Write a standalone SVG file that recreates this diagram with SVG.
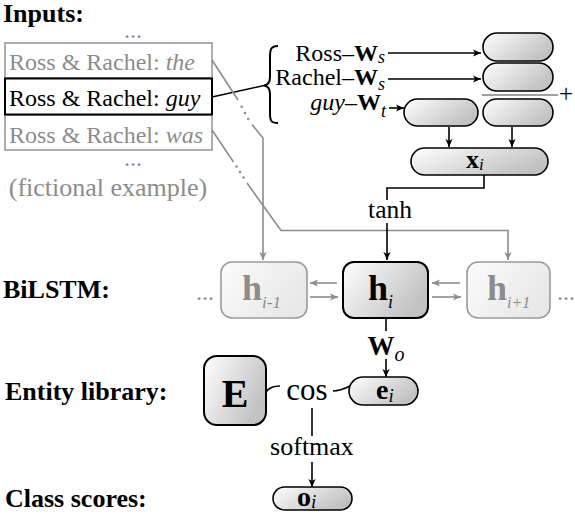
<svg xmlns="http://www.w3.org/2000/svg" width="575" height="517" viewBox="0 0 575 517">
<defs>
<linearGradient id="g" x1="0" y1="0" x2="1" y2="0.5">
<stop offset="0" stop-color="#ffffff"/><stop offset="1" stop-color="#c2c2c2"/>
</linearGradient>
<linearGradient id="gl" x1="0" y1="0" x2="1" y2="0.5">
<stop offset="0" stop-color="#fcfcfc"/><stop offset="1" stop-color="#e8e8e8"/>
</linearGradient>
<marker id="ab" viewBox="0 0 10 10" refX="10" refY="5" markerWidth="8" markerHeight="8" markerUnits="userSpaceOnUse" orient="auto">
<path d="M0,0.5 L10,5 L0,9.5 L2.5,5 z" fill="#000"/>
</marker>
<marker id="ag" viewBox="0 0 10 10" refX="10" refY="5" markerWidth="8" markerHeight="8" markerUnits="userSpaceOnUse" orient="auto">
<path d="M0,0.5 L10,5 L0,9.5 L2.5,5 z" fill="#8c8c8c"/>
</marker>
</defs>
<style>
text{font-family:"Liberation Serif","Times New Roman",serif;fill:#000}
.lbl{font-weight:bold;font-size:26px}
.in{font-size:24px}
.gt{fill:#8c8c8c}
.it{font-style:italic}
.b{font-weight:bold}
.pill{fill:url(#g);stroke:#000;stroke-width:1.6}
.lbox{fill:url(#gl);stroke:#9a9a9a;stroke-width:1.6}
.c{stroke:#000;stroke-width:1.6;fill:none}
.cg{stroke:#8c8c8c;stroke-width:1.6;fill:none}
.dot{fill:#8c8c8c}
</style>
<rect width="575" height="517" fill="#fff"/>

<g id="labels">
<text class="lbl" x="3" y="22" font-size="25.5">Inputs:</text>
<text class="lbl" x="3" y="298">BiLSTM:</text>
<text class="lbl" x="5" y="400">Entity library:</text>
<text class="lbl" x="5" y="507">Class scores:</text>
</g>

<g id="inputs">
<text class="gt" x="133" y="38" font-size="24" text-anchor="middle">...</text>
<rect x="5" y="43" width="207" height="35" fill="#fff" stroke="#9a9a9a" stroke-width="1.6"/>
<text class="in gt" x="9" y="70">Ross &amp; Rachel: <tspan class="it gt">the</tspan></text>
<rect x="5" y="115" width="207" height="35" fill="#fff" stroke="#9a9a9a" stroke-width="1.6"/>
<text class="in gt" x="9" y="143">Ross &amp; Rachel: <tspan class="it gt">was</tspan></text>
<rect x="5" y="78.5" width="207" height="36" fill="#fff" stroke="#000" stroke-width="2"/>
<text class="in" x="9" y="106">Ross &amp; Rachel: <tspan class="it">guy</tspan></text>
<text class="gt" x="133" y="166" font-size="24" text-anchor="middle">...</text>
<text class="gt" x="108" y="196" font-size="26" text-anchor="middle">(fictional example)</text>
</g>

<g id="embeddings">
<path d="M278,46 C271,46 270,49 270,57 L270,77 C270,83 268,85 264,85.5 C268,86 270,88 270,94 L270,113 C270,121 271,123 278,123" fill="none" stroke="#000" stroke-width="2"/>
<text x="385" y="61" font-size="24" text-anchor="end">Ross–<tspan class="b">W</tspan><tspan class="it" font-size="18" dy="2">s</tspan></text>
<text x="385" y="85" font-size="24" text-anchor="end">Rachel–<tspan class="b">W</tspan><tspan class="it" font-size="18" dy="5">s</tspan></text>
<text x="386" y="110" font-size="24" text-anchor="end"><tspan class="it">guy</tspan>–<tspan class="b">W</tspan><tspan class="it" font-size="18" dy="7">t</tspan></text>
<rect class="pill" x="483" y="33" width="70" height="28" rx="14"/>
<rect class="pill" x="483" y="63" width="70" height="28" rx="14"/>
<line x1="482" y1="95" x2="558" y2="95" stroke="#444" stroke-width="1.2"/>
<text x="566" y="102" font-size="25" text-anchor="middle">+</text>
<rect class="pill" x="483" y="99" width="70" height="27" rx="13.5"/>
<rect class="pill" x="404" y="99" width="74" height="27" rx="13.5"/>
</g>

<g id="xi">
<rect class="pill" x="411" y="148" width="137" height="27" rx="13.5"/>
<text x="466" y="168" font-size="26"><tspan class="b">x</tspan><tspan class="it" font-size="17" dy="2">i</tspan></text>
</g>

<g id="bilstm">
<text class="gt" x="196" y="300" font-size="24">...</text>
<rect class="lbox" x="221" y="262" width="86" height="56" rx="11"/>
<text class="gt" x="242" y="300" font-size="36"><tspan class="b gt">h</tspan><tspan class="it gt" font-size="17" dy="8">i-1</tspan></text>
<rect x="343" y="262" width="85" height="56" rx="11" fill="url(#g)" stroke="#000" stroke-width="2"/>
<text x="368" y="300" font-size="36"><tspan class="b">h</tspan><tspan class="it" font-size="18" dy="8">i</tspan></text>
<rect class="lbox" x="467" y="262" width="83" height="56" rx="11"/>
<text class="gt" x="487" y="300" font-size="36"><tspan class="b gt">h</tspan><tspan class="it gt" font-size="16" dy="8">i+1</tspan></text>
<text class="gt" x="557" y="300" font-size="24">...</text>
</g>

<g id="entity">
<rect x="204" y="356" width="62" height="69" rx="13" fill="url(#g)" stroke="#000" stroke-width="2"/>
<text class="b" x="235" y="407" font-size="40" text-anchor="middle">E</text>
<text x="307" y="400" font-size="31" text-anchor="middle">cos</text>
<rect class="pill" x="349" y="377" width="69" height="28" rx="14"/>
<text x="376" y="399" font-size="28"><tspan class="b">e</tspan><tspan class="it" font-size="19" dy="3">i</tspan></text>
<text x="312" y="455" font-size="26" text-anchor="middle">softmax</text>
<text x="386" y="355" font-size="27" text-anchor="middle"><tspan class="b">W</tspan><tspan class="it" font-size="20" dy="6">o</tspan></text>
</g>

<g id="scores">
<rect class="pill" x="273" y="487" width="79" height="23" rx="11.5"/>
<text x="297" y="506" font-size="28"><tspan class="b">o</tspan><tspan class="it" font-size="19" dy="2">i</tspan></text>
</g>

<g id="connectors">
<line class="c" x1="212" y1="97" x2="264" y2="85.5"/>
<line class="c" x1="388" y1="53" x2="481" y2="53" marker-end="url(#ab)"/>
<line class="c" x1="388" y1="79" x2="481" y2="79" marker-end="url(#ab)"/>
<line class="c" x1="389" y1="108" x2="404" y2="108" marker-end="url(#ab)"/>
<line class="c" x1="449" y1="127" x2="449" y2="147" marker-end="url(#ab)"/>
<line class="c" x1="512" y1="127" x2="512" y2="147" marker-end="url(#ab)"/>
<polyline class="c" points="484,175 484,188 387,188 387,200"/>
<text x="390" y="218" font-size="25.5" text-anchor="middle">tanh</text>
<polyline class="cg" points="212,60 238,100"/>
<circle class="dot" cx="241.7" cy="106.7" r="1.3"/>
<circle class="dot" cx="245" cy="113" r="1.3"/>
<circle class="dot" cx="248.3" cy="119" r="1.3"/>
<polyline class="cg" points="252,124.5 263,138 263,260" marker-end="url(#ag)"/>
<polyline class="cg" points="212,130 233.5,162"/>
<circle class="dot" cx="236.5" cy="166.5" r="1.3"/>
<circle class="dot" cx="240" cy="172" r="1.3"/>
<circle class="dot" cx="243.5" cy="177.5" r="1.3"/>
<polyline class="cg" points="247,183 281,230.5 508,230.5 508,260" marker-end="url(#ag)"/>
<line class="c" x1="387" y1="223" x2="387" y2="260" marker-end="url(#ab)"/>
<line class="cg" x1="337" y1="283" x2="310" y2="283" marker-end="url(#ag)"/>
<line class="cg" x1="310" y1="297" x2="338" y2="297" marker-end="url(#ag)"/>
<line class="cg" x1="460" y1="283" x2="432" y2="283" marker-end="url(#ag)"/>
<line class="cg" x1="432" y1="297" x2="461" y2="297" marker-end="url(#ag)"/>
<line class="c" x1="386" y1="318" x2="386" y2="331"/>
<line class="c" x1="386" y1="359" x2="386" y2="377" marker-end="url(#ab)"/>
<path class="c" d="M266,392 Q270,386 280,386"/>
<path class="c" d="M333,391 Q340,391 350,386"/>
<line class="c" x1="312" y1="408" x2="312" y2="436"/>
<line class="c" x1="312" y1="462" x2="312" y2="487" marker-end="url(#ab)"/>
</g>
</svg>
